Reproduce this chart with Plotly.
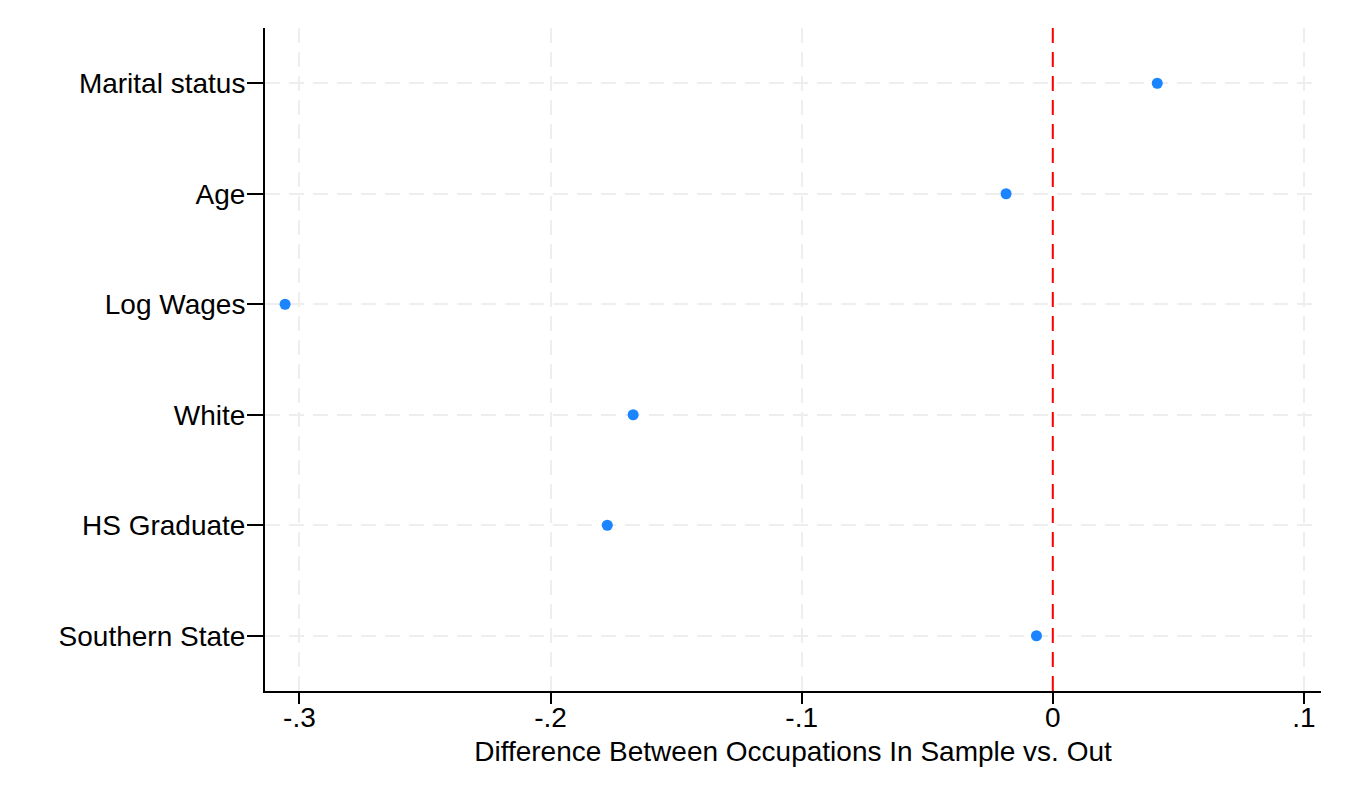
import plotly.graph_objects as go

# covariates and their difference (in sample minus out of sample)
variables = ["Marital status", "Age", "Log Wages", "White", "HS Graduate", "Southern State"]
differences = [0.0416, -0.0186, -0.3057, -0.1671, -0.1774, -0.0065]

x_ticks = [-0.3, -0.2, -0.1, 0, 0.1]
x_tick_labels = ["-.3", "-.2", "-.1", "0", ".1"]

font_family = "Liberation Sans, Arial, sans-serif"

fig = go.Figure()

fig.add_trace(go.Scatter(
    x=differences, y=variables, mode="markers",
    marker=dict(color="#1a85ff", size=11),
    showlegend=False, cliponaxis=False,
))

# zero reference line
fig.add_vline(x=0, line=dict(color="#ff0000", width=2, dash="15px,9px"), layer="above")

fig.update_xaxes(
    range=[-0.3137, 0.1068],
    tickvals=x_ticks, ticktext=x_tick_labels,
    showgrid=True, gridcolor="#eeeeee", gridwidth=2, griddash="15px,9px",
    zeroline=False,
    showline=True, linecolor="black", linewidth=2,
    ticks="outside", ticklen=11, tickwidth=2, tickcolor="black",
    ticklabelstandoff=-11,
    tickfont=dict(size=28, color="black", family=font_family),
    title=dict(text="Difference Between Occupations In Sample vs. Out",
               font=dict(size=28, color="black", family=font_family),
               standoff=10),
)

fig.update_yaxes(
    type="category", categoryorder="array", categoryarray=variables,
    range=[len(variables) - 0.5, -0.5],
    showgrid=True, gridcolor="#eeeeee", gridwidth=2, griddash="15px,9px",
    zeroline=False,
    showline=True, linecolor="black", linewidth=2,
    ticks="outside", ticklen=16, tickwidth=2, tickcolor="black",
    ticklabelstandoff=-4,
    tickfont=dict(size=28, color="black", family=font_family),
)

fig.update_layout(
    width=1350, height=810,
    margin=dict(l=257, r=37, t=20, b=127),
    plot_bgcolor="white", paper_bgcolor="white",
)

fig.write_html("out.html")
